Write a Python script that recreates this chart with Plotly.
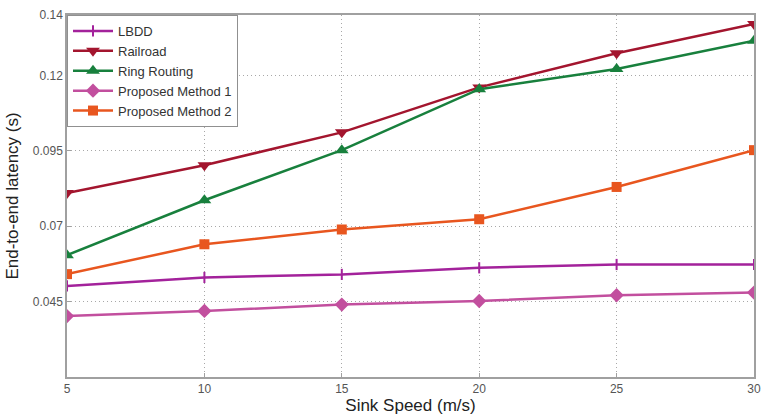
import plotly.graph_objects as go

x_speed = [5, 10, 15, 20, 25, 30]
lbdd = [0.0502, 0.0530, 0.0540, 0.0562, 0.0573, 0.0573]
railroad = [0.0810, 0.0902, 0.1011, 0.1160, 0.1273, 0.1370]
ring_routing = [0.0604, 0.0786, 0.0952, 0.1154, 0.1221, 0.1315]
proposed1 = [0.0402, 0.0419, 0.0440, 0.0452, 0.0471, 0.0480]
proposed2 = [0.0541, 0.0640, 0.0689, 0.0723, 0.0830, 0.0952]

y_ticks = [0.045, 0.07, 0.095, 0.12, 0.14]
y_tick_labels = ["0.045", "0.07", "0.095", "0.12", "0.14"]
x_ticks = [5, 10, 15, 20, 25, 30]

series = [
    ("LBDD", lbdd, "#A3229B", "line-ns-open", 8),
    ("Railroad", railroad, "#A3152E", "triangle-down", 12),
    ("Ring Routing", ring_routing, "#18803D", "triangle-up", 12),
    ("Proposed Method 1", proposed1, "#C24F9E", "diamond", 11),
    ("Proposed Method 2", proposed2, "#E8561F", "square", 10),
]

fig = go.Figure()
for name, vals, color, sym, size in series:
    fig.add_trace(go.Scatter(
        x=x_speed, y=vals, name=name, mode="lines+markers",
        line=dict(color=color, width=2.5),
        marker=dict(symbol=sym, size=size, color=color,
                    line=dict(color=color, width=2 if sym == "line-ns-open" else 0)),
    ))

axis_common = dict(
    showline=True, linecolor="#A0A0A0", linewidth=1.5, mirror=True,
    showgrid=True, gridcolor="#A8A8A8", griddash="1px,3px", gridwidth=1,
    zeroline=False, ticks="inside", ticklen=4, tickcolor="#A0A0A0",
    automargin=False, ticklabeloverflow="allow",
    tickfont=dict(family="Liberation Sans, Arial", size=12, color="#555555"),
)

fig.update_xaxes(
    range=[5, 30], tickvals=x_ticks,
    title=dict(text="Sink Speed (m/s)", font=dict(family="Liberation Sans, Arial", size=17, color="#222222"), standoff=2),
    **axis_common,
)
fig.update_yaxes(
    range=[0.02, 0.14], tickvals=y_ticks, ticktext=y_tick_labels,
    title=dict(text="End-to-end latency (s)", font=dict(family="Liberation Sans, Arial", size=17, color="#222222"), standoff=10),
    **axis_common,
)

fig.update_layout(
    width=761, height=417,
    margin=dict(l=67, r=7, t=15, b=40),
    paper_bgcolor="white", plot_bgcolor="white",
    showlegend=True,
    legend=dict(
        x=0, y=1, xanchor="left", yanchor="top",
        bgcolor="white", bordercolor="#909090", borderwidth=1,
        font=dict(family="Liberation Sans, Arial", size=13, color="#333333"),
        tracegroupgap=0, itemwidth=40,
    ),
)

# remove the default page margin so the 761x417 figure fills the window exactly
fig.write_html(
    "out.html",
    config={"displayModeBar": False},
    post_script="document.body.style.margin='0';document.body.style.overflow='hidden';",
)
